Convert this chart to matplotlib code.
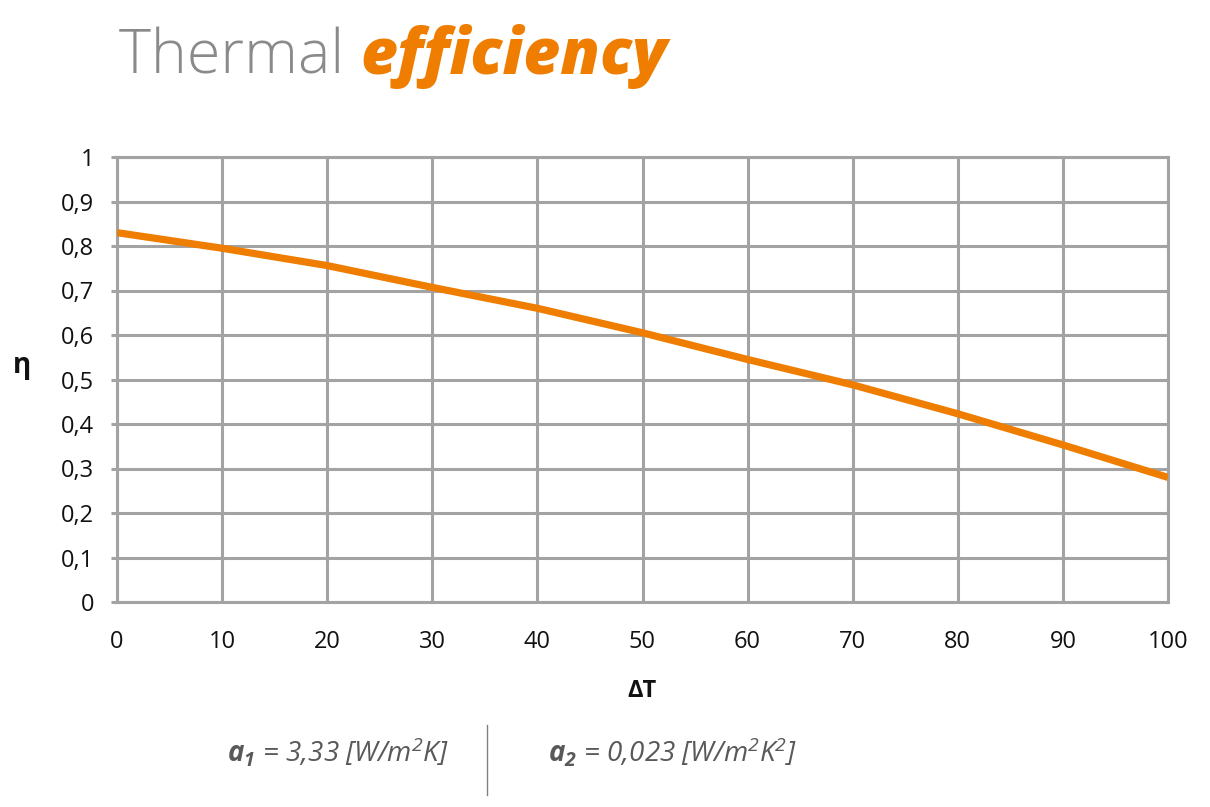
import matplotlib.pyplot as plt
from matplotlib.ticker import FuncFormatter

# Thermal efficiency curve of a solar collector
delta_t = [0, 10, 20, 30, 40, 50, 60, 70, 80, 90, 100]
eta = [0.83, 0.795, 0.756, 0.707, 0.66, 0.605, 0.545, 0.488, 0.423, 0.353, 0.28]
x_ticks = list(range(0, 101, 10))
y_ticks = [i / 10 for i in range(11)]

orange = '#ef7d00'
grid_grey = '#a3a3a3'
text_grey = '#595959'

plt.rcParams['font.family'] = ['Open Sans', 'DejaVu Sans']
plt.rcParams['mathtext.fontset'] = 'custom'
plt.rcParams['mathtext.rm'] = 'Open Sans:italic'
plt.rcParams['mathtext.it'] = 'Open Sans:italic'
plt.rcParams['mathtext.bf'] = 'Open Sans:italic:bold'

fig = plt.figure(figsize=(12.1, 8.07), dpi=100)
ax = fig.add_axes([117 / 1210, 1 - 602 / 807, (1168 - 117) / 1210, (602 - 157) / 807])

ax.plot(delta_t, eta, color=orange, lw=5.2, solid_capstyle='butt', zorder=3)

ax.set_xlim(0, 100)
ax.set_ylim(0, 1)
ax.set_xticks(x_ticks)
ax.set_yticks(y_ticks)
ax.yaxis.set_major_formatter(FuncFormatter(lambda v, p: f'{v:g}'.replace('.', ',')))
ax.grid(True, color=grid_grey, lw=2.2)
ax.set_axisbelow(True)
for s in ax.spines.values():
    s.set_color(grid_grey)
    s.set_linewidth(2.2)
ax.tick_params(axis='x', length=0, pad=20, labelsize=17, labelcolor='#111111')
ax.tick_params(axis='y', length=4.5, width=2.2, color=grid_grey, pad=12,
               labelsize=17, labelcolor='#111111')

ax.set_xlabel('ΔT', fontsize=17, fontweight='bold', color='#111111', labelpad=18)
ax.set_ylabel('η', fontsize=20, fontweight='bold', color='#111111', rotation=0,
              labelpad=0)
ax.yaxis.set_label_coords(-0.09, 0.5)

# Title in two styles
t1 = fig.text(119 / 1210, 1 - 74 / 807, 'Thermal ', fontsize=44, fontweight='light',
              color='#8a8a8a', va='baseline')
fig.canvas.draw()
bb = t1.get_window_extent()
x2 = bb.x1 / fig.bbox.width
fig.text(x2, 1 - 74 / 807, 'efficiency', fontsize=46, fontweight='heavy',
         style='italic', color=orange, va='baseline')

# Coefficients below the chart
fig.text(338 / 1210, 1 - 753 / 807, r'$\mathbf{a_1}$ = 3,33 [W/m$^2$K]', fontsize=20,
         style='italic', color=text_grey, ha='center', va='center')
fig.text(672 / 1210, 1 - 753 / 807, r'$\mathbf{a_2}$ = 0,023 [W/m$^2$K$^2$]', fontsize=20,
         style='italic', color=text_grey, ha='center', va='center')
fig.add_artist(plt.Line2D([487 / 1210, 487 / 1210], [1 - 795 / 807, 1 - 725 / 807],
                          color='#808080', lw=1))

plt.savefig('out.png', dpi=100, facecolor='white')
